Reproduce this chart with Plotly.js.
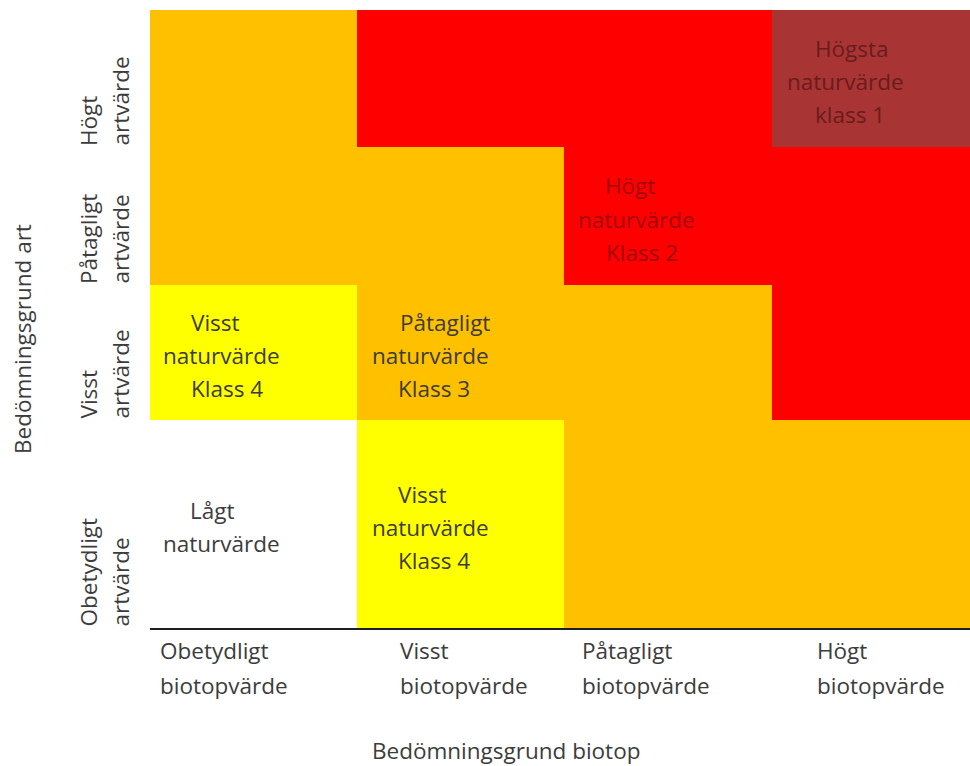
<!DOCTYPE html>
<html>
<head>
<meta charset="utf-8">
<script src="https://cdn.plot.ly/plotly-3.0.1.min.js"></script>
<style>
  html, body { margin: 0; padding: 0; background: #ffffff; }
  #chart { width: 970px; height: 766px; }
</style>
</head>
<body>
<div id="chart"></div>
<script>
// ---------------- DATA ----------------
const biotopLevels = ['Obetydligt', 'Visst', 'Påtagligt', 'Högt'];
const biotopSuffix = 'biotopvärde';
const artLevels = ['Obetydligt', 'Visst', 'Påtagligt', 'Högt'];
const artSuffix = 'artvärde';
const xTitle = 'Bedömningsgrund biotop';
const yTitle = 'Bedömningsgrund art';

// class code per cell: rows = art (bottom→top), cols = biotop (left→right)
// 0 = Lågt, 1 = Visst (Klass 4), 2 = Påtagligt (Klass 3), 3 = Högt (Klass 2), 4 = Högsta (Klass 1)
const classGrid = [
  [0, 1, 2, 2],
  [1, 2, 2, 3],
  [2, 2, 3, 3],
  [2, 3, 3, 4]
];
const classColors = ['#FFFFFF', '#FFFF00', '#FFC000', '#FF0000', '#A83434'];

// text written in cells
const cellLabels = [
  { row: 1, col: 0, lines: ['Visst', 'naturvärde', 'Klass 4'] },
  { row: 1, col: 1, lines: ['Påtagligt', 'naturvärde', 'Klass 3'] },
  { row: 0, col: 0, lines: ['Lågt', 'naturvärde'] },
  { row: 0, col: 1, lines: ['Visst', 'naturvärde', 'Klass 4'] },
  { row: 2, col: 2, lines: ['Högt', 'naturvärde', 'Klass 2'] },
  { row: 3, col: 3, lines: ['Högsta', 'naturvärde', 'klass 1'] }
];

// ---------------- LAYOUT (geometry / style) ----------------
const gridX = [0, 207, 414, 622, 820];   // column boundaries
const gridY = [0, 208, 343, 481, 618];   // row boundaries
const W = gridX[gridX.length - 1], H = gridY[gridY.length - 1];
const lineStep = 33;
const labelDx = {
  '1,0': [-38, -32, -27],
  '1,1': [-16, -30, -27],
  '0,0': [-42, -32],
  '0,1': [-38, -30, -27],
  '2,2': [-38, -32, -26],
  '3,3': [-19, -26, -21]
};
const labelColor = { 3: '#A00808', 4: '#6A1C1C' };
const baseColor = '#3c3c3c';
const fontFamily = '"Open Sans", "Noto Sans", sans-serif';
const fontSize = 22.5;
const xTickOffset = [8, 41, 16, 43];

// discrete colorscale
const n = classColors.length;
const colorscale = [];
classColors.forEach((c, i) => {
  colorscale.push([i / n, c]);
  colorscale.push([(i + 1) / n, c]);
});

const heat = {
  type: 'heatmap',
  x: gridX,
  y: gridY,
  z: classGrid,
  zmin: -0.5,
  zmax: n - 0.5,
  colorscale: colorscale,
  showscale: false,
  hoverinfo: 'skip'
};

const annotations = [];
const font = (color) => ({ family: fontFamily, size: fontSize, color: color || baseColor });
// place text in grid units, converted to paper coordinates
const ann = (gx, gy, t, extra) => Object.assign({
  x: gx / W, y: gy / H, xref: 'paper', yref: 'paper', text: t, showarrow: false,
  xanchor: 'center', yanchor: 'middle', font: font()
}, extra || {});

// cell labels
cellLabels.forEach(lbl => {
  const cls = classGrid[lbl.row][lbl.col];
  const cx = (gridX[lbl.col] + gridX[lbl.col + 1]) / 2;
  const cy = (gridY[lbl.row] + gridY[lbl.row + 1]) / 2 - 3;
  const dx = labelDx[lbl.row + ',' + lbl.col];
  const k = lbl.lines.length;
  lbl.lines.forEach((t, i) => {
    annotations.push(ann(cx + dx[i], cy - (i - (k - 1) / 2) * lineStep, t,
      { font: font(labelColor[cls]) }));
  });
});

// x tick labels (two lines, left aligned)
biotopLevels.forEach((lev, c) => {
  [lev, biotopSuffix].forEach((t, i) => {
    annotations.push(ann(gridX[c] + xTickOffset[c], -22 - i * 35, t, { xanchor: 'left' }));
  });
});

// y tick labels (rotated, two lines, starting at row bottom)
artLevels.forEach((lev, r) => {
  [lev, artSuffix].forEach((t, i) => {
    annotations.push(ann(-62 + i * 32, gridY[r] - 1, t, { textangle: -90, yanchor: 'bottom' }));
  });
});

// axis titles
annotations.push(ann(356, -122, xTitle));
annotations.push(ann(-128, 289, yTitle, { textangle: -90 }));

const layout = {
  width: 970,
  height: 766,
  margin: { l: 150, r: 0, t: 10, b: 138, pad: 0 },
  paper_bgcolor: '#ffffff',
  plot_bgcolor: '#ffffff',
  showlegend: false,
  xaxis: {
    range: [gridX[0], W],
    showgrid: false, zeroline: false, showticklabels: false, ticks: '',
    showline: true, linecolor: '#1e1e1e', linewidth: 2, fixedrange: true
  },
  yaxis: {
    range: [gridY[0], H],
    showgrid: false, zeroline: false, showticklabels: false, ticks: '',
    showline: false, fixedrange: true
  },
  annotations: annotations
};

Plotly.newPlot('chart', [heat], layout, { staticPlot: true, displayModeBar: false });
</script>
</body>
</html>
